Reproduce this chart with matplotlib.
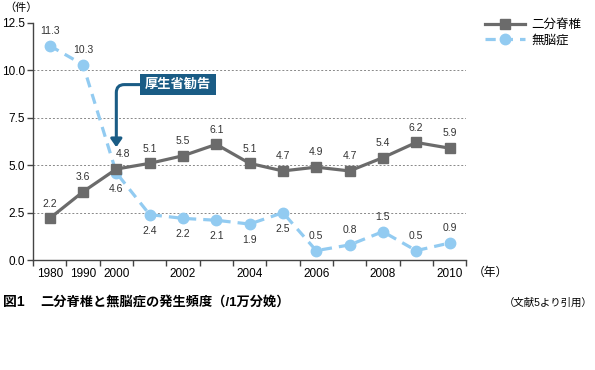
import numpy as np
import matplotlib.pyplot as plt

plt.rcParams['font.family'] = ['Liberation Sans', 'Noto Sans CJK JP']

# data
years = ["1980", "1990", "2000", "2001", "2002", "2003", "2004",
         "2005", "2006", "2007", "2008", "2009", "2010"]
tick_labels = ["1980", "1990", "2000", "", "2002", "", "2004",
               "", "2006", "", "2008", "", "2010"]
spina_bifida = [2.2, 3.6, 4.8, 5.1, 5.5, 6.1, 5.1, 4.7, 4.9, 4.7, 5.4, 6.2, 5.9]
anencephaly = [11.3, 10.3, 4.6, 2.4, 2.2, 2.1, 1.9, 2.5, 0.5, 0.8, 1.5, 0.5, 0.9]

grey = "#6b6b6b"
blue = "#92cbf1"
navy = "#1a5c85"

fig = plt.figure(figsize=(5.95, 3.70), dpi=100)
ax = fig.add_axes([0.0555, 0.297, 0.728, 0.641])

x = np.arange(len(years))
ax.plot(x, anencephaly, color=blue, lw=2.3, dashes=(3.2, 2.2), marker="o",
        markersize=7.5, label="無脳症", zorder=3)
ax.plot(x, spina_bifida, color=grey, lw=2.3, marker="s", markersize=7.5,
        label="二分脊椎", zorder=4)

# value labels
for i, v in enumerate(spina_bifida):
    dx = 0.2 if i == 2 else 0
    ax.annotate(f"{v:.1f}", (i + dx, v), xytext=(0, 7), textcoords="offset points",
                ha="center", va="bottom", fontsize=7.5, color="#333333")
blue_up = [True, True, False, False, False, False, False, False, True, True, True, True, True]
for i, v in enumerate(anencephaly):
    if blue_up[i]:
        ax.annotate(f"{v:.1f}", (i, v), xytext=(0, 7), textcoords="offset points",
                    ha="center", va="bottom", fontsize=7.5, color="#333333")
    else:
        ax.annotate(f"{v:.1f}", (i, v), xytext=(0, -8), textcoords="offset points",
                    ha="center", va="top", fontsize=7.5, color="#333333")

ax.set_xlim(-0.5, 12.5)
ax.set_ylim(0, 12.5)
ax.set_yticks([0, 2.5, 5, 7.5, 10, 12.5])
ax.set_yticklabels(["0.0", "2.5", "5.0", "7.5", "10.0", "12.5"], fontsize=8.5)
ax.set_xticks(x)
ax.set_xticklabels(tick_labels, fontsize=8.5)
ax.tick_params(axis="x", length=0, pad=6)
ax.set_xticks(np.arange(-0.5, 13, 1), minor=True)
ax.tick_params(axis="x", which="minor", length=4, width=1, color="#444444")
ax.tick_params(axis="y", length=4, width=1, color="#444444", pad=2)
for g in [2.5, 5, 7.5, 10]:
    ax.axhline(g, color="#888888", lw=0.7, ls=(0, (2, 2)), zorder=1)
for s in ["top", "right"]:
    ax.spines[s].set_visible(False)
for s in ["left", "bottom"]:
    ax.spines[s].set_color("#444444")
    ax.spines[s].set_linewidth(1)

# advisory annotation
ax.annotate("厚生省勧告", xy=(2, 5.95), xytext=(3.85, 9.25),
            fontsize=9.5, color="white", fontweight="bold", ha="center", va="center",
            bbox=dict(boxstyle="square,pad=0.35", fc=navy, ec="none"),
            arrowprops=dict(arrowstyle="-|>,head_width=0.35,head_length=0.5",
                            color=navy, lw=2.2,
                            connectionstyle="angle,angleA=0,angleB=90,rad=8",
                            shrinkA=0, shrinkB=0))

fig.text(0.008, 0.98, "（件）", fontsize=8, va="center")
fig.text(0.795, 0.262, "（年）", fontsize=8.5, va="center")

h, l = ax.get_legend_handles_labels()
leg = fig.legend(h[::-1], l[::-1], loc="upper left", bbox_to_anchor=(0.805, 0.965),
                 frameon=False, fontsize=9, handlelength=3.2, handletextpad=0.5,
                 labelspacing=0.25, borderpad=0)

fig.text(0.005, 0.183, "図1", fontsize=10, fontweight="bold", va="center")
fig.text(0.068, 0.183, "二分脊椎と無脳症の発生頻度（/1万分娩）", fontsize=9.5,
         fontweight="bold", va="center")
fig.text(0.995, 0.183, "（文献5より引用）", fontsize=7.5, va="center", ha="right")

fig.savefig("out.png", dpi=100)
